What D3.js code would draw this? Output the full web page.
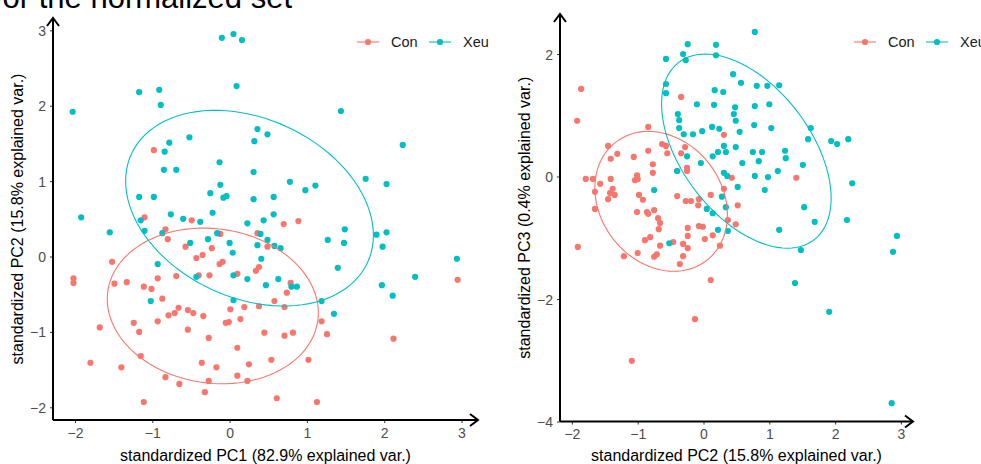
<!DOCTYPE html>
<html><head><meta charset="utf-8">
<script src="https://cdn.jsdelivr.net/npm/d3@7/dist/d3.min.js"></script>
<style>body{margin:0;background:#fff}svg{display:block}</style>
</head><body>
<script>
// ---------- data ----------
const groups = ["Con", "Xeu"];
const groupColors = ["#F8766D", "#00BFC4"];
const ticksPC1 = [-2, -1, 0, 1, 2, 3];
const ticksPC2left = [-2, -1, 0, 1, 2, 3];
const ticksPC2right = [-2, -1, 0, 1, 2, 3];
const ticksPC3 = [-4, -2, 0, 2];
const titleLeftX = "standardized PC1 (82.9% explained var.)";
const titleLeftY = "standardized PC2 (15.8% explained var.)";
const titleRightX = "standardized PC2 (15.8% explained var.)";
const titleRightY = "standardized PC3 (0.4% explained var.)";
const headingText = "for the normalized set";

// Panel 1: PC1 vs PC2
const conPC1 = [-0.98,-1.10,-0.49,-0.83,-0.80,-0.12,0.70,0.89,0.36,0.49,-0.57,-0.23,-0.35,-0.43,-0.13,-0.09,0.38,-1.52,-2.02,-2.02,-1.49,-1.33,-1.68,-1.80,-1.40,-1.24,-1.17,-1.15,-1.11,-1.01,-0.93,-0.87,-0.93,-0.79,-0.71,-0.66,-0.83,-0.65,-1.11,-0.69,-0.54,-0.47,-0.34,-0.54,-0.40,-0.26,-0.27,-0.36,-0.17,-0.27,-0.32,0.01,-0.05,-0.01,0.14,0.19,0.10,0.10,0.10,0.23,0.25,0.34,0.38,0.58,0.71,0.74,0.79,0.45,0.71,0.82,1.19,1.26,2.12,2.95,0.54,1.02,0.61,1.13];
const conPC2a = [1.41,0.52,0.48,0.36,0.23,0.30,0.43,0.47,0.31,0.13,0.13,0.11,0.02,-0.02,-0.10,-0.07,-0.14,-0.07,-0.29,-0.35,-0.36,-0.34,-0.94,-1.41,-1.47,-0.88,-1.00,-1.32,-0.40,-0.43,-0.29,-0.56,-0.86,-0.78,-0.75,-0.68,-1.60,-1.69,-1.93,-0.26,-0.71,-0.75,-0.79,-0.97,-0.25,-0.25,-1.08,-1.41,-1.47,-1.65,-1.80,-0.70,-0.88,-0.87,-0.83,-0.67,-0.23,-1.21,-1.58,-1.65,-1.43,-0.19,-0.66,-0.59,-0.67,-0.48,-0.35,-1.01,-1.05,-1.01,-0.86,-1.03,-1.09,-0.31,-1.37,-1.37,-1.88,-1.93];
const xeuPC1 = [-2.03,-1.17,-0.91,-0.89,-0.10,0.05,0.16,0.09,-0.52,-0.78,-0.84,-0.85,-0.69,-0.13,-0.12,-0.25,-0.08,-0.04,-1.17,-0.98,-1.92,-0.76,-0.60,-0.38,-0.22,-1.15,-1.10,-1.55,-0.87,-0.28,-0.16,0.23,0.36,0.49,0.32,0.31,0.78,1.11,0.98,0.31,0.57,0.44,0.57,-0.51,0.40,0.49,0.36,0.58,0.66,0.00,0.04,0.41,-0.93,1.27,1.40,1.44,2.24,1.76,2.03,1.49,1.90,2.03,-0.43,0.05,0.23,-1.02,0.05,0.47,0.63,0.80,0.87,1.19,1.35,1.48,1.98,1.97,2.11,2.40,2.94];
const xeuPC2a = [1.92,2.18,2.21,2.01,2.90,2.95,2.87,2.26,1.58,1.51,1.39,1.15,1.15,1.25,0.95,0.84,0.78,0.80,0.79,0.79,0.52,0.56,0.50,0.46,0.58,0.48,0.34,0.32,0.31,0.23,0.31,0.44,1.69,1.62,1.53,1.12,0.99,0.94,0.88,0.76,0.79,0.48,0.56,0.18,0.30,0.22,0.15,0.14,0.11,0.18,0.05,-0.03,-0.10,0.22,-0.15,1.93,1.48,1.03,0.96,0.36,0.29,0.32,-0.27,-0.25,-0.30,-0.59,-0.58,-0.38,-0.30,-0.40,-0.40,-0.59,-0.76,0.18,0.13,-0.38,-0.52,-0.27,-0.03];

// Panel 2: PC2 vs PC3
const conPC2b = [-1.86,-1.92,-0.34,-0.84,-1.45,-1.31,-1.41,-1.06,-0.84,-0.77,-0.77,-1.01,-1.00,-1.04,-0.63,-0.57,-0.55,-0.34,-0.28,-0.40,-0.25,-0.25,-1.79,-1.68,-1.57,-1.65,-1.41,-1.42,-1.38,-1.35,-1.45,-1.65,-1.01,-0.86,-0.84,-0.75,-0.98,-0.92,-0.69,-0.66,-0.40,-0.27,-0.19,-0.07,0.11,0.31,0.43,-0.24,-0.07,-0.01,-0.68,1.41,0.52,0.49,-0.08,0.31,0.37,-0.24,0.02,0.14,0.25,-0.81,-0.89,-0.46,-0.31,-0.24,-0.66,-0.31,-0.36,-0.75,-0.71,-1.00,-1.21,-1.91,0.11,-0.13,-1.09];
const conPC3 = [1.43,0.91,1.30,0.81,0.50,0.37,0.29,0.32,0.42,0.20,0.06,0.02,-0.04,-0.06,0.53,0.50,0.38,0.38,0.48,0.09,0.09,0.14,-0.04,-0.04,-0.12,-0.25,-0.04,-0.27,-0.20,-0.30,-0.37,-0.53,-0.58,-0.58,-0.61,-0.55,-0.30,-0.38,-0.68,-0.76,-0.32,-0.40,-0.40,-0.37,-0.30,0.68,-0.02,-0.84,-0.81,-0.82,-0.86,-0.02,-0.47,-0.78,-0.47,-0.20,-0.71,-0.97,-1.02,-0.96,-1.13,-0.99,-1.04,-1.07,-1.10,-1.17,-1.13,-1.30,-1.43,-1.31,-1.27,-1.25,-1.30,-1.15,-1.69,-2.33,-3.01];
const xeuPC2b = [-0.57,-0.31,-0.27,-0.24,0.19,0.19,-0.57,-0.57,0.45,0.57,-0.10,0.16,0.17,0.30,0.48,0.46,-0.39,-0.37,-0.37,-0.30,-0.16,-0.02,0.13,0.24,0.49,0.55,0.31,0.34,0.49,0.14,0.22,-0.25,-0.04,0.59,-0.40,0.31,0.36,0.52,-0.75,0.28,0.05,0.14,0.34,0.22,0.37,0.78,0.81,0.97,1.15,0.78,1.00,0.77,1.03,1.63,1.59,1.94,2.03,2.20,0.75,0.89,1.24,1.25,0.84,1.13,1.51,0.78,0.98,0.93,2.26,1.53,1.69,2.18,1.15,1.48,2.94,2.88,1.39,1.91,2.86,-0.52];
const xeuPC3 = [1.92,2.00,1.90,2.16,2.15,1.98,1.51,1.36,1.67,1.53,1.18,1.17,1.41,1.38,1.13,1.02,1.02,0.92,0.79,0.69,0.69,0.74,0.81,0.78,0.91,0.73,0.50,0.40,0.48,0.33,0.40,0.33,0.22,0.22,0.09,0.06,0.01,-0.17,-0.22,-0.33,-0.53,-0.60,-0.50,-0.87,-0.89,2.36,1.48,1.48,1.49,1.15,1.18,0.84,0.79,0.79,0.61,0.58,0.53,0.61,0.40,0.40,0.42,0.30,0.25,0.09,0.19,0.01,-0.01,-0.22,-0.11,-0.50,-0.74,-0.71,-0.87,-1.20,-0.97,-1.23,-1.74,-2.21,-3.70,-1.09];

// ---------- helpers ----------
const W = 981, H = 464;
const svg = d3.select("body").append("svg").attr("width", W).attr("height", H);
const FONT = "'Liberation Sans', Arial, sans-serif";

svg.append("text").attr("x", 292).attr("y", 8).attr("text-anchor", "end")
  .attr("font-family", FONT).attr("font-size", 31).attr("fill", "#000").text(headingText);

function ellipsePts(xs, ys, prob) {
  const n = xs.length;
  const mx = d3.mean(xs), my = d3.mean(ys);
  let a = 0, b = 0, c = 0;
  for (let i = 0; i < n; i++) {
    const dx = xs[i] - mx, dy = ys[i] - my;
    a += dx * dx; b += dx * dy; c += dy * dy;
  }
  a /= (n - 1); b /= (n - 1); c /= (n - 1);
  const ed = Math.sqrt(-2 * Math.log(1 - prob)); // sqrt(qchisq(prob, 2))
  const r11 = Math.sqrt(a), r12 = b / r11, r22 = Math.sqrt(c - r12 * r12);
  const pts = [];
  for (let k = 0; k < 100; k++) {
    const t = -Math.PI + 2 * Math.PI * k / 100;
    const ct = Math.cos(t), st = Math.sin(t);
    pts.push([mx + ed * ct * r11, my + ed * (ct * r12 + st * r22)]);
  }
  return pts;
}

function panel(opt) {
  const g = svg.append("g");
  const x = d3.scaleLinear().domain(opt.xAnchor).range(opt.xRange);
  const y = d3.scaleLinear().domain(opt.yAnchor).range(opt.yRange);
  const L = opt.left, R = opt.right, T = opt.top, B = opt.bottom;

  // points
  opt.series.forEach((s, gi) => {
    g.append("g").selectAll("circle").data(d3.zip(s[0], s[1])).join("circle")
      .attr("cx", d => x(d[0])).attr("cy", d => y(d[1])).attr("r", 3.1)
      .attr("fill", groupColors[gi]);
  });
  // ellipses
  opt.series.forEach((s, gi) => {
    const pts = ellipsePts(s[0], s[1], 0.68);
    g.append("path").attr("d", d3.line().x(d => x(d[0])).y(d => y(d[1])).curve(d3.curveLinearClosed)(pts))
      .attr("fill", "none").attr("stroke", groupColors[gi]).attr("stroke-width", 1.1);
  });

  // axes
  const ax = g.append("g").attr("transform", `translate(0,${B})`)
    .call(d3.axisBottom(x).tickValues(opt.xTicks).tickFormat(d3.format("d")).tickSize(3).tickPadding(5).tickSizeOuter(0));
  const ay = g.append("g").attr("transform", `translate(${L},0)`)
    .call(d3.axisLeft(y).tickValues(opt.yTicks).tickFormat(d3.format("d")).tickSize(3).tickPadding(4).tickSizeOuter(0));
  [ax, ay].forEach(a => {
    a.select(".domain").remove();
    a.selectAll("line").attr("stroke", "#333").attr("stroke-width", 1);
    a.selectAll("text").attr("font-family", FONT).attr("font-size", 14).attr("fill", "#4D4D4D");
  });
  ay.selectAll("text").attr("dy", "0.36em");

  // axis lines with open arrows
  const line = g.append("g").attr("stroke", "#000").attr("stroke-width", 2).attr("fill", "none")
    .attr("stroke-linecap", "butt").attr("stroke-linejoin", "miter");
  line.append("path").attr("d", `M${L},${B}H${R}M${L},${B}V${T}`);
  line.append("path").attr("d", `M${R - 8},${B - 6}L${R},${B}L${R - 8},${B + 6}`);
  line.append("path").attr("d", `M${L - 6},${T + 8}L${L},${T}L${L + 6},${T + 8}`);

  // titles
  g.append("text").attr("x", (L + R) / 2).attr("y", 461).attr("text-anchor", "middle")
    .attr("font-family", FONT).attr("font-size", 16).attr("fill", "#000").text(opt.xTitle);
  g.append("text").attr("transform", `translate(${opt.yTitleX},${(T + B) / 2}) rotate(-90)`)
    .attr("text-anchor", "middle").attr("font-family", FONT).attr("font-size", 16).attr("fill", "#000").text(opt.yTitle);

  // legend
  const lg = g.append("g").attr("transform", `translate(${opt.legendX},${opt.legendY})`);
  groups.forEach((name, i) => {
    const ox = i * 72;
    lg.append("line").attr("x1", ox).attr("x2", ox + 22).attr("y1", 0).attr("y2", 0)
      .attr("stroke", groupColors[i]).attr("stroke-width", 1.1);
    lg.append("circle").attr("cx", ox + 11).attr("cy", 0).attr("r", 3.1).attr("fill", groupColors[i]);
    lg.append("text").attr("x", ox + 34).attr("y", 0).attr("dy", "0.36em")
      .attr("font-family", FONT).attr("font-size", 14.5).attr("fill", "#1a1a1a").text(name);
  });
}

panel({
  series: [[conPC1, conPC2a], [xeuPC1, xeuPC2a]],
  xAnchor: [-2, 3], xRange: [75, 461.5], yAnchor: [-2, 3], yRange: [407.3, 30.3],
  left: 53, right: 478, top: 18, bottom: 420,
  xTicks: ticksPC1, yTicks: ticksPC2left,
  xTitle: titleLeftX, yTitle: titleLeftY, yTitleX: 23,
  legendX: 357, legendY: 42
});
panel({
  series: [[conPC2b, conPC3], [xeuPC2b, xeuPC3]],
  xAnchor: [-2, 3], xRange: [571.9, 900.9], yAnchor: [-4, 2], yRange: [421.5, 54],
  left: 560, right: 913, top: 14, bottom: 421.5,
  xTicks: ticksPC2right, yTicks: ticksPC3,
  xTitle: titleRightX, yTitle: titleRightY, yTitleX: 530,
  legendX: 854, legendY: 42
});
</script>
</body></html>
